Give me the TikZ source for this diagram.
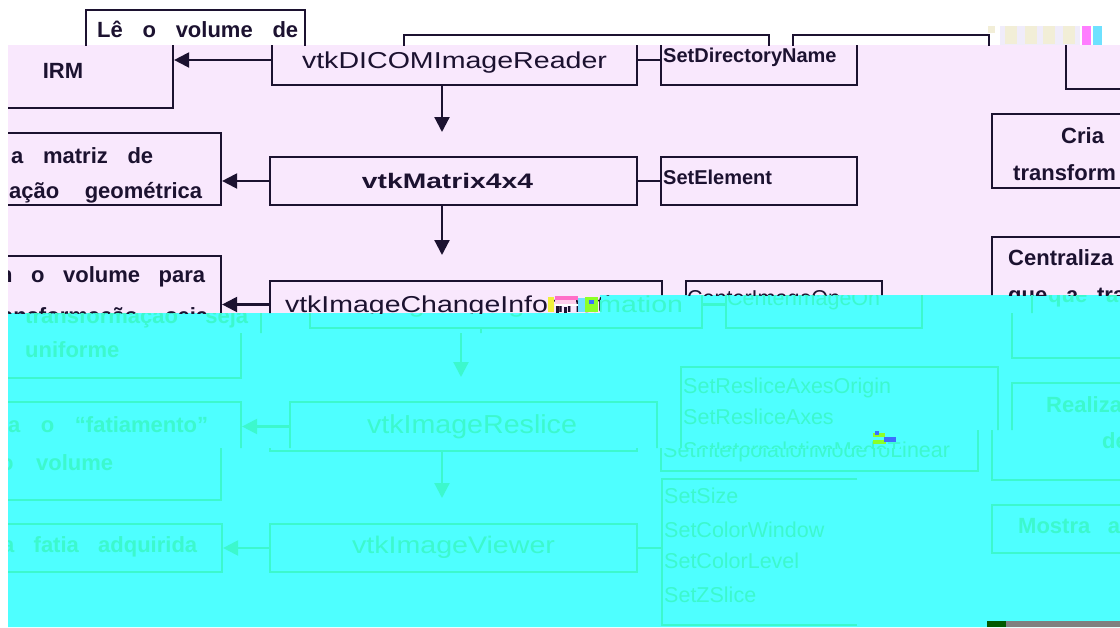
\documentclass[tikz,border=0pt]{standalone}
\usepackage{fontspec}
\setmainfont{Liberation Sans}
\usepackage{graphicx}
\usetikzlibrary{arrows.meta,fit}

\definecolor{lav}{RGB}{249,232,253}
\definecolor{cyanbg}{RGB}{78,255,255}
\definecolor{inkdark}{RGB}{28,18,48}
\definecolor{inkcyan}{RGB}{60,248,205}
\definecolor{glyellow}{RGB}{240,240,60}
\definecolor{glpink}{RGB}{255,110,200}
\definecolor{gllight}{RGB}{255,205,235}
\definecolor{gllime}{RGB}{140,255,40}
\definecolor{glblue}{RGB}{60,110,255}
\definecolor{glsky}{RGB}{110,225,255}
\definecolor{glbeige}{RGB}{242,238,215}
\definecolor{glpale}{RGB}{240,236,250}
\definecolor{glmag}{RGB}{255,125,255}
\definecolor{barGreen}{RGB}{0,90,0}
\definecolor{barGray}{RGB}{128,128,128}

\newcommand\descfont{\fontsize{22}{22}\selectfont\bfseries}
\newcommand\methfont{\fontsize{21.5}{21.5}\selectfont}
\newcommand\methbold{\fontsize{20}{20}\selectfont\bfseries}
\newcommand\clsname[3]{{\fontsize{#1}{#1}\selectfont\resizebox{#2pt}{\height}{#3}}}
\newcommand\spread[2]{\makebox[#1pt][s]{#2}}

\tikzset{
  box/.style={draw, line width=2.2pt, inner sep=0pt, rectangle},
  hiddenbox/.style={inner sep=0pt, rectangle},
  link/.style={line width=2.2pt},
  arrow/.style={line width=2.2pt, -{Triangle[length=15pt,width=15pt]}},
  lbl/.style={inner sep=0pt, anchor=base west},
  clbl/.style={inner sep=0pt, anchor=base},
}

% ---- boxes and connectors, one macro per pipeline stage ----
\newcommand\boxesA{%
  \node[box, fit={(-46,10) (173,108)}] (irmbox) {};
  \node[box, fit={(272,35) (637,85)}] (reader) {};
  \node[box, fit={(661,35) (857,85)}] (dirbox) {};
  \node[box, fit={(1066,35) (1200,89)}] (rA) {};
  \draw[arrow] (reader.west) -- (reader.west -| irmbox.east);
  \draw[link] (reader.east) -- (dirbox.west);
  \coordinate (tipA) at (442,132);
  \draw[arrow] (reader.south -| tipA) -- (tipA);}
\newcommand\boxesB{%
  \node[box, fit={(-60,133) (221,205)}] (matbox) {};
  \node[box, fit={(270,157) (637,205)}] (matrix) {};
  \node[box, fit={(661,157) (857,205)}] (elembox) {};
  \node[box, fit={(992,114) (1200,188)}] (rB) {};
  \draw[arrow] (matrix.west) -- (matrix.west -| matbox.east);
  \draw[link] (matrix.east) -- (elembox.west);
  \coordinate (tipB) at (442,255);
  \draw[arrow] (matrix.south -| tipB) -- (tipB);}
\newcommand\boxesC{%
  \node[box, fit={(-60,256) (221,378)}] (alignbox) {};
  \node[box, fit={(270,281) (662,328)}] (change) {};
  \node[box, fit={(686,281) (882,328)}] (centerbox) {};
  \node[box, fit={(992,237) (1200,358)}] (rC) {};
  \draw[arrow] (change.west) -- (change.west -| alignbox.east);
  \draw[link] (change.east) -- (centerbox.west);
  \coordinate (tipC) at (441,377);
  \draw[arrow] (change.south -| tipC) -- (tipC);}
\newcommand\boxesD{%
  \node[box, fit={(-60,402) (221,500)}] (slicebox) {};
  \node[box, fit={(270,402) (637,451)}] (reslice) {};
  \node[box, fit={(661,367) (978,471)}] (reslicem) {};
  \node[box, fit={(992,383) (1200,480)}] (rD) {};
  \draw[arrow] (reslice.west) -- (reslice.west -| slicebox.east);
  \coordinate (tipD) at (442,498);
  \draw[arrow] (reslice.south -| tipD) -- (tipD);}
\newcommand\boxesE{%
  \node[box, fit={(-60,524) (222,572)}] (showbox) {};
  \node[box, fit={(270,524) (637,572)}] (viewer) {};
  \node[hiddenbox, fit={(662,479) (857,625)}] (viewm) {};
  \draw[link] (viewm.north east) -- (viewm.north west) -- (viewm.south west) -- (viewm.south east);
  \node[box, fit={(992,505) (1200,553)}] (rE) {};
  \draw[arrow] (viewer.west) -- (viewer.west -| showbox.east);
  \draw[link] (viewer.east) -- (viewer.east -| viewm.west);}

% ---- texts ----
\newcommand\tIrmTop{\node[lbl, font=\descfont] (irmA) at (-35,37) {\spread{201}{Lê o volume de}};}
\newcommand\tIrm{\node[clbl, font=\descfont] (irmB) at (63,78) {IRM};}
\newcommand\tReader{\node[clbl] (readerT) at (454.5,68) {\clsname{23}{305}{vtkDICOMImageReader}};}
\newcommand\tDir{\node[lbl, font=\methbold] (dirT) at (663,62) {SetDirectoryName};}
\newcommand\tMat{%
  \node[lbl, font=\descfont] (matA) at (11,163) {\spread{142}{a matriz de}};
  \node[lbl, font=\descfont] (matB) at (9,198) {\spread{193}{ação geométrica}};}
\newcommand\tMatrix{\node[clbl] (matrixT) at (447.5,188) {\clsname{21}{171}{\bfseries vtkMatrix4x4}};}
\newcommand\tElem{\node[lbl, font=\methbold] (elemT) at (663,184) {SetElement};}
\newcommand\tCria{%
  \node[lbl, font=\descfont] (rBa) at (1061,143) {Cria};
  \node[lbl, font=\descfont] (rBb) at (1013,180) {transform};}
\newcommand\tAlA{\node[lbl, font=\descfont] (alA) at (-1,282) {\spread{206}{n o volume para}};}
\newcommand\tAlB{\node[lbl, font=\descfont] (alB) at (-15,323) {\spread{223}{transformação seja}};}
\newcommand\tAlC{\node[lbl, font=\descfont] (alC) at (5,357) {uniforme};}
\newcommand\tChange{\node[clbl] (changeT) at (464,312) {\clsname{23}{358}{vtkImageChangeInformation}};}
\newcommand\tCenter{\node[lbl, font=\methfont] (centerT) at (687,305) {CenterImageOn};}
\newcommand\tCentraliza{\node[lbl, font=\descfont] (rCa) at (1008,265) {Centraliza};}
\newcommand\tQue{\node[lbl, font=\descfont] (rCb) at (1008,302) {\spread{117}{que a tra}};}
\newcommand\tSlA{\node[lbl, font=\descfont] (slA) at (-12,432) {\spread{200}{a o “fatiamento”}};}
\newcommand\tSlB{\node[lbl, font=\descfont] (slB) at (0,470) {\spread{113}{o volume}};}
\newcommand\tReslice{\node[clbl] (resliceT) at (452,433) {\clsname{26}{210}{vtkImageReslice}};}
\newcommand\tRmAB{%
  \node[lbl, font=\methfont] (rmA) at (663,393) {SetResliceAxesOrigin};
  \node[lbl, font=\methfont] (rmB) at (663,424) {SetResliceAxes};}
\newcommand\tRmC{\node[lbl, font=\methfont] (rmC) at (663,457) {SetInterpolationModeToLinear};}
\newcommand\tRealiza{\node[lbl, font=\descfont] (rDa) at (1026,412) {Realiza};}
\newcommand\tDe{\node[lbl, font=\descfont] (rDb) at (1102,448) {de};}
\newcommand\tShow{\node[lbl, font=\descfont] (shA) at (2,552) {\spread{195}{a fatia adquirida}};}
\newcommand\tViewer{\node[clbl] (viewerT) at (453.5,553) {\clsname{24}{203}{vtkImageViewer}};}
\newcommand\tViewMethods{%
  \node[lbl, font=\methfont] (vmA) at (664,503) {SetSize};
  \node[lbl, font=\methfont] (vmB) at (664,537) {SetColorWindow};
  \node[lbl, font=\methfont] (vmC) at (664,568) {SetColorLevel};
  \node[lbl, font=\methfont] (vmD) at (664,602) {SetZSlice};}
\newcommand\tMostra{\node[lbl, font=\descfont] (rEa) at (1018,533) {\spread{102}{Mostra a}};}

\begin{document}
\begin{tikzpicture}[x=1pt,y=-1pt]
\useasboundingbox (0,0) rectangle (1120,627);
\fill[white] (0,0) rectangle (1120,627);
\fill[lav] (8,45) -- (1120,45) -- (1120,295) -- (600,295) -- (600,313) -- (8,313) -- cycle;
\fill[cyanbg] (8,313) -- (600,313) -- (600,295) -- (1120,295) -- (1120,627) -- (8,627) -- cycle;

% top strip
\begin{scope}[color=inkdark]
  \clip (0,0) rectangle (1120,45);
  \begin{scope}[xshift=132pt]\boxesA \tIrmTop\end{scope}
\end{scope}
% lavender part
\begin{scope}[color=inkdark]
  \clip (8,45) -- (1120,45) -- (1120,295) -- (600,295) -- (600,313) -- (8,313) -- cycle;
  \boxesA \boxesB \boxesC
  \tIrm \tReader \tDir \tMat \tMatrix \tElem \tCria
  \tAlA \tAlB \tChange \tCenter \tCentraliza \tQue
\end{scope}
% cyan bands
\begin{scope}[color=inkcyan]
  \clip (8,313) -- (600,313) -- (600,295) -- (1120,295) -- (1120,313) -- (960,313) -- (960,333) -- (8,333) -- cycle;
  \begin{scope}[xshift=40pt]\boxesC \tAlB \tChange \tCenter \tQue\end{scope}
\end{scope}
\begin{scope}[color=inkcyan]
  \clip (8,333) -- (960,333) -- (960,313) -- (1120,313) -- (1120,430) -- (900,430) -- (900,448) -- (8,448) -- cycle;
  \begin{scope}[xshift=20pt]\boxesC \boxesD \tAlC \tSlA \tReslice \tRmAB \tRmC \tRealiza\end{scope}
\end{scope}
\begin{scope}[color=inkcyan]
  \clip (8,448) -- (900,448) -- (900,430) -- (1120,430) -- (1120,627) -- (8,627) -- cycle;
  \boxesD \boxesE
  \tSlB \tRmC \tDe \tShow \tViewer \tViewMethods \tMostra
\end{scope}

% speckles
\fill[glyellow] (548,297) rectangle (554,312);
\fill[glpink] (555,296) rectangle (578,300);
\fill[gllight] (555,300) rectangle (576,304);
\fill[white] (555,304) rectangle (578,306);
\fill[inkdark] (556,306) rectangle (559,313);
\fill[inkdark] (564,307) rectangle (567,313);
\fill[glsky] (578,298) rectangle (585,312);
\fill[gllime] (585,297) rectangle (598,312);
\fill[glblue] (589,300) rectangle (594,304);
\fill[gllime] (873,433) rectangle (885,437);
\fill[gllime] (873,440) rectangle (886,444);
\fill[glblue] (875,431) rectangle (879,435);
\fill[glblue] (884,437) rectangle (896,442);
\fill[glbeige] (988,26) rectangle (995,33);
\fill[glpale] (1000,26) rectangle (1080,45);
\foreach \bx in {1005,1025,1043,1063}{\fill[glbeige] (\bx,26) rectangle ++(12,18);}
\fill[glmag] (1082,26) rectangle (1091,45);
\fill[glsky] (1093,26) rectangle (1102,45);
\fill[barGreen] (987,621) rectangle (1006,627);
\fill[barGray] (1006,621) rectangle (1120,627);
\end{tikzpicture}
\end{document}
